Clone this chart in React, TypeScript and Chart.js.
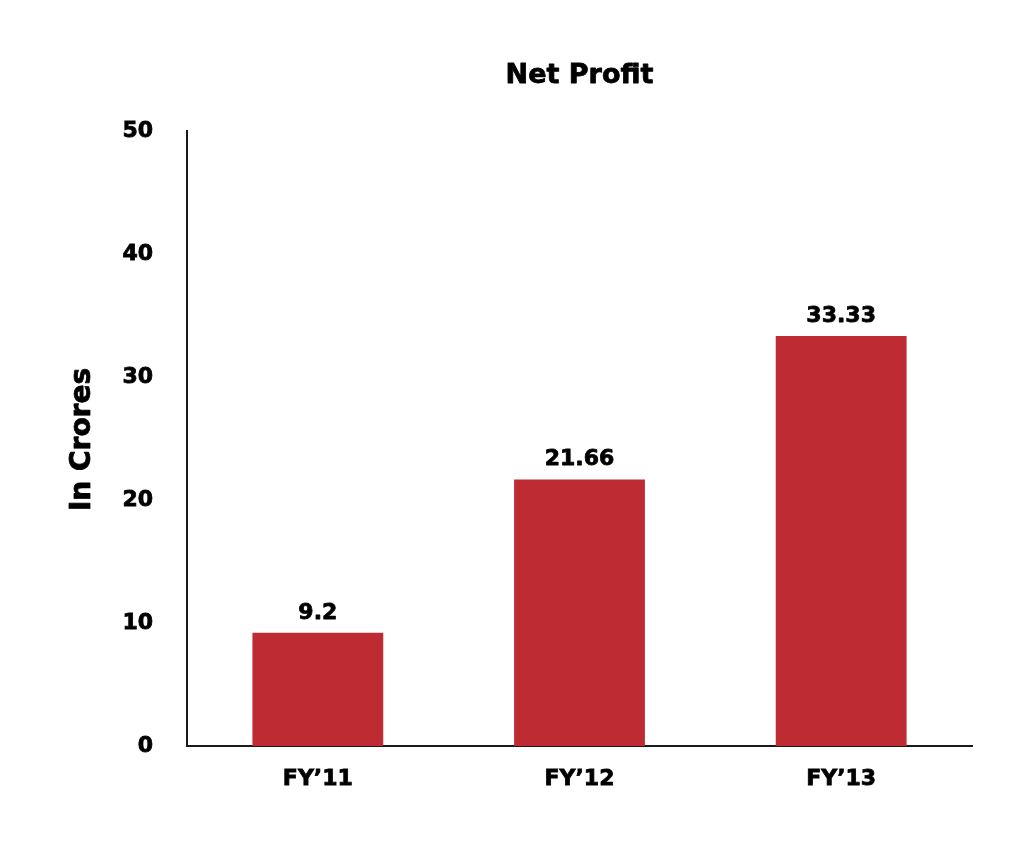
import { useEffect, useRef } from "react"
import { Chart, registerables } from "chart.js"

Chart.register(...registerables)

const years = ["FY’11", "FY’12", "FY’13"]
const netProfit = [9.2, 21.66, 33.33]
const valueLabels = ["9.2", "21.66", "33.33"]

const FONT = "'DejaVu Sans', 'Liberation Sans', sans-serif"
const STROKE = 0.8

const drawHeavy = (ctx: CanvasRenderingContext2D, text: string, x: number, y: number) => {
  ctx.fillText(text, x, y)
  ctx.strokeText(text, x, y)
}

// value labels, title and y-axis title
const labelsPlugin = {
  id: "barLabels",
  afterDatasetsDraw(chart: any) {
    const { ctx, chartArea } = chart
    ctx.save()
    ctx.fillStyle = "#000"
    ctx.strokeStyle = "#000"
    ctx.lineWidth = STROKE
    ctx.lineJoin = "round"
    ctx.textAlign = "center"
    ctx.textBaseline = "middle"
    ctx.font = `bold 22px ${FONT}`
    chart.getDatasetMeta(0).data.forEach((bar: any, i: number) => {
      drawHeavy(ctx, valueLabels[i], bar.x, bar.y - 20)
    })
    ctx.font = `bold 27px ${FONT}`
    drawHeavy(ctx, "Net Profit", (chartArea.left + chartArea.right) / 2, 76)

    ctx.translate(83, (chartArea.top + chartArea.bottom) / 2 + 1)
    ctx.rotate(-Math.PI / 2)
    ctx.font = `bold 28px ${FONT}`
    drawHeavy(ctx, "In Crores", 0, 0)
    ctx.restore()
  },
}

export default function App() {
  const chartRef = useRef<HTMLCanvasElement>(null)
  const chartInstance = useRef<Chart | null>(null)

  useEffect(() => {
    if (!chartRef.current) return
    if (chartInstance.current) chartInstance.current.destroy()

    const ctx = chartRef.current.getContext("2d")
    if (!ctx) return

    chartInstance.current = new Chart(ctx, {
      type: "bar",
      data: {
        labels: years,
        datasets: [
          {
            label: "Net Profit",
            data: netProfit,
            backgroundColor: "#BE2B33",
            categoryPercentage: 1,
            barPercentage: 0.5,
          },
        ],
      },
      options: {
        responsive: true,
        maintainAspectRatio: false,
        animation: false,
        layout: { padding: { top: 131, right: 38, bottom: 0, left: 0 } },
        plugins: {
          legend: { display: false },
          tooltip: { enabled: false },
        },
        scales: {
          x: {
            grid: { display: false, drawTicks: false },
            border: { display: true, color: "#1a1a1a", width: 2 },
            ticks: {
              color: "#000",
              padding: 20,
              textStrokeColor: "#000",
              textStrokeWidth: STROKE,
              font: { family: FONT, size: 22, weight: "bold" },
            },
            afterFit: (scale: any) => {
              scale.height = 106
            },
          },
          y: {
            min: 0,
            max: 50,
            grid: { display: false, drawTicks: false },
            border: { display: true, color: "#1a1a1a", width: 2 },
            ticks: {
              stepSize: 10,
              color: "#000",
              padding: 34,
              textStrokeColor: "#000",
              textStrokeWidth: STROKE,
              font: { family: FONT, size: 22, weight: "bold" },
            },
            afterFit: (scale: any) => {
              scale.width = 187
            },
          },
        },
      },
      plugins: [labelsPlugin],
    })

    return () => {
      if (chartInstance.current) {
        chartInstance.current.destroy()
        chartInstance.current = null
      }
    }
  }, [])

  return (
    <div style={{ position: "fixed", left: 0, top: 0, width: 1010, height: 852, background: "#fff" }}>
      <canvas ref={chartRef} />
    </div>
  )
}
